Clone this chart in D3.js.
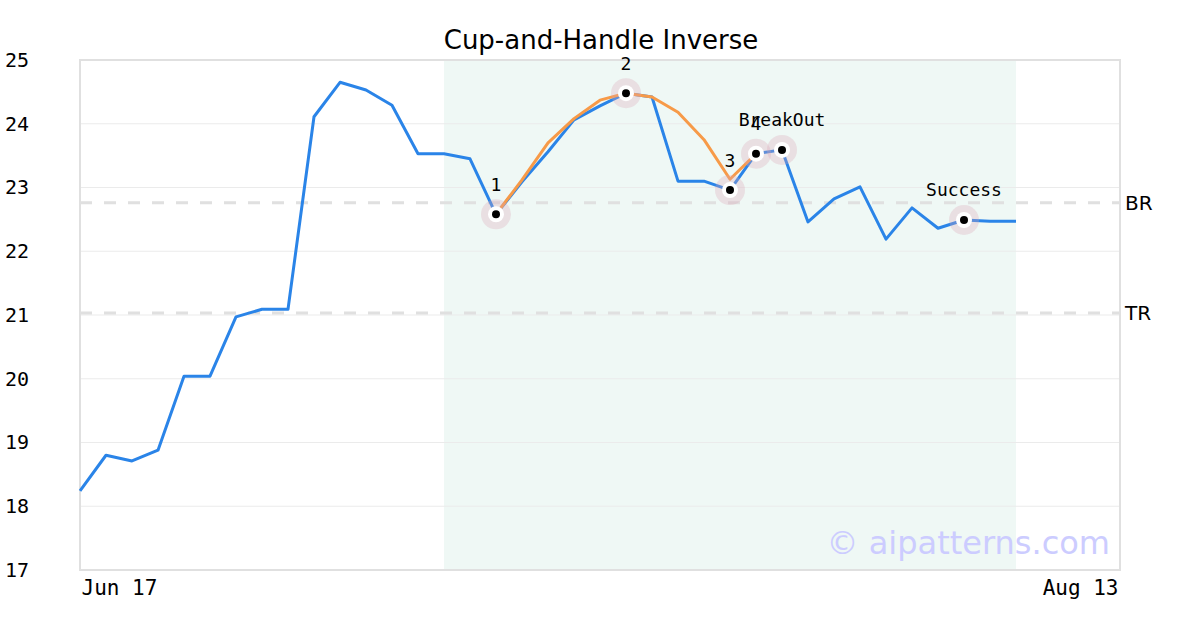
<!DOCTYPE html>
<html>
<head>
<meta charset="utf-8">
<script src="https://cdn.jsdelivr.net/npm/d3@7"></script>
<style>
  html, body { margin: 0; padding: 0; background: #fff; }
  svg { display: block; }
</style>
</head>
<body>
<svg id="chart" width="1200" height="630"></svg>
<script>
// ---- data ----
const title = "Cup-and-Handle Inverse";
const xTickIndex = [0, 40];
const xTickLabels = ["Jun 17", "Aug 13"];
const yTicks = [17, 18, 19, 20, 21, 22, 23, 24, 25];
const prices = [18.24, 18.80, 18.71, 18.88, 20.04, 20.04, 20.97, 21.09, 21.09, 24.11,
  24.65, 24.53, 24.29, 23.53, 23.53, 23.45, 22.58, 23.09, 23.56, 24.06,
  24.28, 24.48, 24.42, 23.10, 23.10, 22.96, 23.53, 23.59, 22.46, 22.82,
  23.01, 22.19, 22.68, 22.36, 22.49, 22.47, 22.47];
const cupIndex = [16, 17, 18, 19, 20, 21, 22, 23, 24, 25, 26];
const cupValues = [22.58, 23.12, 23.70, 24.08, 24.37, 24.48, 24.42, 24.18, 23.75, 23.13, 23.53];
const patternIndex = [16, 21, 25, 26, 27, 34];
const patternLabels = ["1", "2", "3", "4", "BreakOut", "Success"];
const bandRange = [14, 36];
const levelNames = ["BR", "TR"];
const levelValues = [22.76, 21.03];
const watermark = "\u00a9 aipatterns.com";

// ---- layout ----
const svg = d3.select("#chart");
const mLeft = 80, mRight = 1120, mTop = 60, mBottom = 570;
const x = d3.scaleLinear().domain([0, 40]).range([mLeft, mRight]);
const y = d3.scaleLinear().domain([17, 25]).range([mBottom, mTop]);
const mono = "'DejaVu Sans Mono', monospace";
const sans = "'DejaVu Sans', sans-serif";

// band
svg.append("rect")
  .attr("x", x(bandRange[0])).attr("y", mTop)
  .attr("width", x(bandRange[1]) - x(bandRange[0]))
  .attr("height", mBottom - mTop)
  .attr("fill", "#eff8f5");

// grid
svg.append("g").selectAll("line").data(yTicks.slice(1, -1)).join("line")
  .attr("x1", mLeft).attr("x2", mRight)
  .attr("y1", d => y(d)).attr("y2", d => y(d))
  .attr("stroke", "#ebebeb").attr("stroke-width", 1);

// level lines
svg.append("g").selectAll("line").data(levelValues).join("line")
  .attr("x1", mLeft).attr("x2", mRight)
  .attr("y1", d => y(d)).attr("y2", d => y(d))
  .attr("stroke", "#e0e0e0").attr("stroke-width", 3)
  .attr("stroke-dasharray", "12,12");
svg.append("g").selectAll("text").data(levelValues).join("text")
  .attr("x", mRight + 5).attr("y", d => y(d))
  .attr("dy", "0.36em")
  .attr("font-family", sans).attr("font-size", 20).attr("fill", "#000")
  .text((d, i) => levelNames[i]);

// border
svg.append("rect")
  .attr("x", mLeft).attr("y", mTop)
  .attr("width", mRight - mLeft).attr("height", mBottom - mTop)
  .attr("fill", "none").attr("stroke", "#e0e0e0").attr("stroke-width", 2);

// axes
const yAxis = d3.axisLeft(y).tickValues(yTicks).tickSize(0).tickFormat(d3.format("d"));
const gy = svg.append("g").attr("transform", `translate(${mLeft},0)`).call(yAxis);
gy.select(".domain").remove();
gy.selectAll("text")
  .attr("x", -75).attr("text-anchor", "start")
  .attr("font-family", mono).attr("font-size", 20).attr("fill", "#000");

const xAxis = d3.axisBottom(x).tickValues(xTickIndex).tickSize(0)
  .tickFormat((d, i) => xTickLabels[i]);
const gx = svg.append("g").attr("transform", `translate(0,${mBottom})`).call(xAxis);
gx.select(".domain").remove();
gx.selectAll("text")
  .attr("x", (d, i) => i === 0 ? 1 : -2)
  .attr("y", 17).attr("dy", "0.36em")
  .attr("text-anchor", (d, i) => i === 0 ? "start" : "end")
  .attr("font-family", mono).attr("font-size", 21).attr("fill", "#000");

// watermark
svg.append("text")
  .attr("x", 1110).attr("y", 554).attr("text-anchor", "end")
  .attr("font-family", sans).attr("font-size", 32)
  .attr("fill", "#ccccff")
  .text(watermark);

// lines
const line = d3.line().x(d => x(d[0])).y(d => y(d[1]));
svg.append("path")
  .datum(prices.map((v, i) => [i, v]))
  .attr("d", line).attr("fill", "none")
  .attr("stroke", "#2a84e8").attr("stroke-width", 3)
  .attr("stroke-linejoin", "round");
svg.append("path")
  .datum(cupIndex.map((v, i) => [v, cupValues[i]]))
  .attr("d", line).attr("fill", "none")
  .attr("stroke", "#f79a48").attr("stroke-width", 3)
  .attr("stroke-linejoin", "round");

// pattern markers
const pts = patternIndex.map((idx, i) => ({ idx, v: prices[idx], label: patternLabels[i] }));
const gm = svg.append("g");
gm.selectAll("circle.halo").data(pts).join("circle").attr("class", "halo")
  .attr("cx", d => x(d.idx)).attr("cy", d => y(d.v)).attr("r", 15)
  .attr("fill", "#d9a7b7").attr("fill-opacity", 0.3);
gm.selectAll("circle.ring").data(pts).join("circle").attr("class", "ring")
  .attr("cx", d => x(d.idx)).attr("cy", d => y(d.v)).attr("r", 8)
  .attr("fill", "#fff");
gm.selectAll("circle.dot").data(pts).join("circle").attr("class", "dot")
  .attr("cx", d => x(d.idx)).attr("cy", d => y(d.v)).attr("r", 4)
  .attr("fill", "#000");
gm.selectAll("text").data(pts).join("text")
  .attr("x", d => x(d.idx)).attr("y", d => y(d.v) - 30)
  .attr("dy", "0.36em").attr("text-anchor", "middle")
  .attr("font-family", mono).attr("font-size", 18).attr("fill", "#000")
  .text(d => d.label);

// title
svg.append("text")
  .attr("x", 601).attr("y", 49).attr("text-anchor", "middle")
  .attr("font-family", sans).attr("font-size", 26).attr("fill", "#000")
  .text(title);
</script>
</body>
</html>
